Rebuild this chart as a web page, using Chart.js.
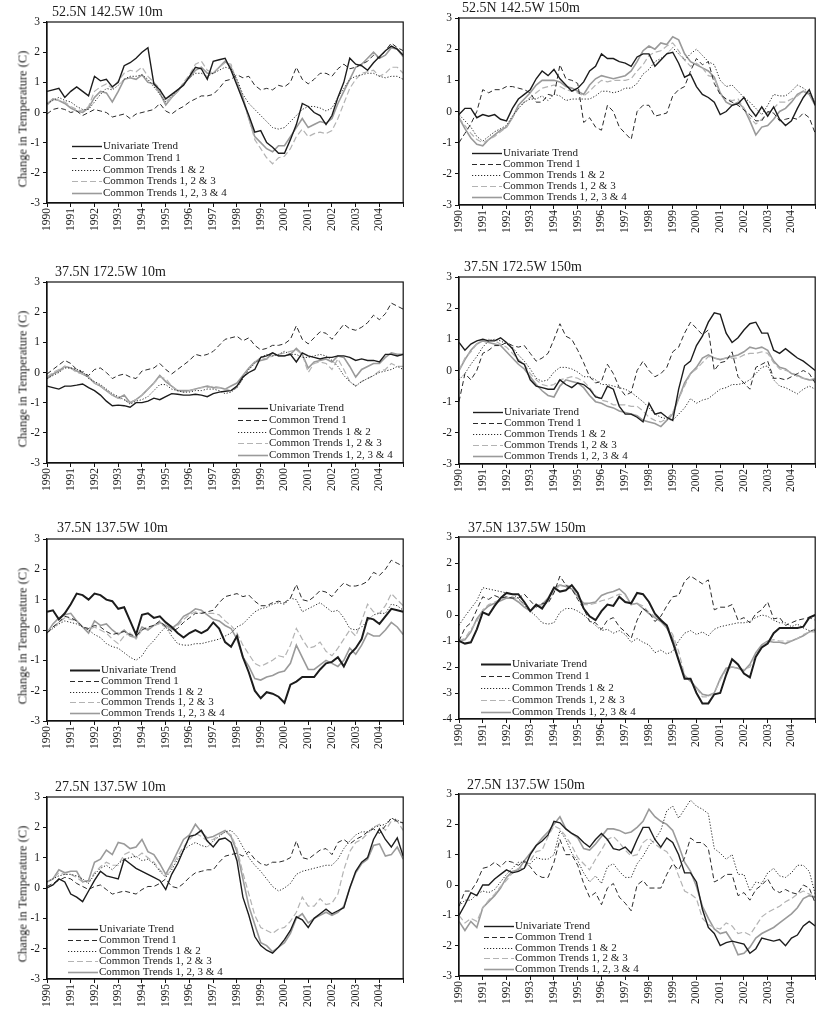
<!DOCTYPE html>
<html lang="en">
<head>
<meta charset="UTF-8">
<title>Common trends in temperature</title>
<script src="https://cdn.jsdelivr.net/npm/chart.js"></script>
<style>
    body {
        margin: 0;
        background: #fff;
        font-family: "Liberation Serif", "Times New Roman", serif;
        color: #1a1a1a;
    }
    #page {
        position: relative;
        width: 830px;
        height: 1010px;
        overflow: hidden;
    }
    .panel { position: absolute; }
    .title {
        position: absolute;
        font-size: 14px;
        line-height: 16px;
        white-space: nowrap;
    }
    .ylab {
        position: absolute;
        font-size: 12.5px;
        font-weight: normal;
        white-space: nowrap;
        transform: translate(-50%, -50%) rotate(-90deg);
    }
</style>
</head>
<body>
<div id="page"></div>

<script>
// tick labels on the time axis (quarterly samples from 1990 to 2005)
const yearLabels = ['1990','1991','1992','1993','1994','1995','1996','1997','1998','1999','2000','2001','2002','2003','2004'];
const seriesNames = ['Univariate Trend', 'Common Trend 1', 'Common Trends 1 & 2', 'Common Trends 1, 2 & 3', 'Common Trends 1, 2, 3 & 4'];

// ---- 52.5N 142.5W 10m ----
const l1Uni = [0.70,0.75,0.80,0.50,0.70,0.85,0.70,0.55,1.20,1.05, 1.10,0.85,1.00,1.55,1.65,1.80,2.00,2.15,0.95,0.75, 0.45,0.60,0.75,0.90,1.20,1.50,1.45,1.10,1.70,1.75, 1.80,1.40,0.90,0.40,-0.10,-0.65,-0.60,-1.00,-1.15,-1.35, -1.35,-0.90,-0.40,0.30,0.20,0.00,-0.10,-0.40,-0.10,0.50, 1.00,1.80,1.60,1.55,1.40,1.65,1.85,2.05,2.20,2.10, 1.90];
const l1Ct1 = [-0.05,0.10,0.15,0.10,0.00,0.05,-0.10,0.00,0.10,0.05, 0.00,-0.15,-0.10,-0.05,-0.20,-0.05,0.00,0.05,0.10,0.30, 0.05,-0.05,0.10,0.20,0.35,0.45,0.55,0.55,0.60,0.80, 1.05,1.10,1.25,1.15,1.20,0.90,0.75,0.80,0.75,0.90, 0.85,1.00,1.50,1.10,0.95,1.10,1.30,1.30,1.20,1.45, 1.60,1.45,1.50,1.60,1.70,1.90,1.80,2.05,2.30,2.15, 2.05];
const l1Ct12 = [0.30,0.40,0.50,0.40,0.35,0.20,0.10,0.10,0.35,0.60, 0.80,0.75,0.90,1.10,1.20,1.20,1.25,1.10,0.85,0.60, 0.35,0.55,0.75,0.95,1.15,1.30,1.30,1.20,1.30,1.40, 1.50,1.45,1.10,0.60,0.30,0.10,-0.10,-0.30,-0.50,-0.55, -0.50,-0.30,-0.10,0.10,0.20,0.20,0.15,0.05,0.15,0.50, 0.80,1.10,1.20,1.25,1.30,1.30,1.20,1.15,1.20,1.20, 1.10];
const l1Ct123 = [0.30,0.45,0.40,0.35,0.20,0.10,0.05,0.20,0.70,0.85, 0.95,0.80,1.05,1.30,1.40,1.35,1.50,1.20,1.00,0.80, 0.30,0.50,0.70,1.00,1.25,1.60,1.70,1.40,1.30,1.50, 1.65,1.60,1.00,0.40,-0.20,-0.90,-1.20,-1.50,-1.70,-1.50, -1.45,-1.20,-0.80,-0.55,-0.80,-0.70,-0.65,-0.70,-0.60,-0.20, 0.30,0.80,1.10,1.30,1.35,1.40,1.20,1.30,1.50,1.50, 1.30];
const l1Ct1234 = [0.25,0.45,0.40,0.30,0.15,0.05,0.00,0.15,0.50,0.70, 0.65,0.35,0.70,1.10,1.15,1.10,1.25,1.00,0.95,0.65, 0.25,0.50,0.70,0.95,1.15,1.40,1.50,1.30,1.30,1.50, 1.70,1.50,1.00,0.50,-0.20,-0.80,-1.00,-1.20,-1.30,-1.10, -1.10,-0.80,-0.50,-0.20,-0.50,-0.40,-0.30,-0.35,-0.20,0.30, 0.70,1.10,1.50,1.60,1.80,2.00,1.80,1.90,2.15,2.10, 1.85];

// ---- 37.5N 172.5W 10m ----
const l2Uni = [-0.45,-0.50,-0.55,-0.45,-0.45,-0.42,-0.38,-0.50,-0.60,-0.75, -0.95,-1.10,-1.08,-1.10,-1.15,-1.00,-1.00,-0.95,-0.85,-0.90, -0.80,-0.70,-0.72,-0.75,-0.75,-0.72,-0.75,-0.80,-0.70,-0.65, -0.62,-0.60,-0.45,-0.15,0.00,0.10,0.50,0.55,0.65,0.55, 0.55,0.60,0.35,0.65,0.55,0.50,0.45,0.50,0.50,0.55, 0.55,0.50,0.40,0.45,0.40,0.40,0.35,0.60,0.60,0.55, 0.60];
const l2Ct1 = [-0.05,0.10,0.25,0.40,0.30,0.10,0.00,-0.10,0.10,0.15, 0.00,-0.20,-0.10,-0.05,-0.15,-0.20,0.05,0.10,0.15,0.30, 0.10,-0.05,0.10,0.25,0.40,0.60,0.55,0.60,0.70,0.90, 1.10,1.15,1.20,1.05,1.15,0.90,0.75,0.80,0.90,0.90, 0.95,1.10,1.55,1.10,0.95,1.15,1.35,1.30,1.10,1.35, 1.60,1.45,1.40,1.50,1.65,1.90,1.75,1.95,2.30,2.20, 2.10];
const l2Ct12 = [-0.20,-0.10,0.00,0.15,0.15,0.10,0.05,-0.20,-0.30,-0.40, -0.55,-0.70,-0.80,-0.90,-1.05,-0.95,-0.90,-0.80,-0.60,-0.40, -0.40,-0.55,-0.60,-0.65,-0.65,-0.60,-0.60,-0.55,-0.55,-0.60, -0.70,-0.65,-0.50,-0.20,0.10,0.30,0.50,0.60,0.55,0.60, 0.70,0.60,0.60,0.50,0.50,0.55,0.60,0.55,0.40,0.20, -0.10,-0.30,-0.45,-0.30,-0.20,-0.10,0.00,0.05,0.10,0.20, 0.10];
const l2Ct123 = [-0.15,0.00,0.10,0.20,0.15,0.00,-0.05,-0.15,-0.35,-0.45, -0.60,-0.75,-0.85,-0.90,-1.00,-0.90,-0.75,-0.55,-0.35,-0.15, -0.20,-0.45,-0.60,-0.65,-0.60,-0.55,-0.50,-0.50,-0.45,-0.50, -0.55,-0.60,-0.50,-0.20,0.10,0.35,0.50,0.45,0.55,0.60, 0.65,0.70,0.75,0.60,0.00,0.30,0.35,0.30,0.10,0.45, 0.10,-0.30,-0.45,-0.30,-0.20,-0.10,0.05,0.10,0.30,0.20, 0.20];
const l2Ct1234 = [-0.20,-0.05,0.05,0.20,0.15,0.05,-0.05,-0.15,-0.35,-0.45, -0.60,-0.75,-0.85,-0.75,-1.00,-0.90,-0.75,-0.55,-0.35,-0.10, -0.30,-0.45,-0.60,-0.60,-0.60,-0.55,-0.50,-0.45,-0.50,-0.50, -0.55,-0.45,-0.35,-0.10,0.15,0.35,0.40,0.45,0.65,0.55, 0.55,0.60,0.80,0.60,0.15,0.35,0.40,0.45,0.35,0.55, 0.50,0.20,-0.15,0.10,0.20,0.30,0.30,0.50,0.65,0.60, 0.60];

// ---- 37.5N 137.5W 10m ----
const l3Uni = [0.60,0.65,0.35,0.55,0.85,1.20,1.15,1.00,1.20,1.15, 1.00,0.95,0.70,0.75,0.30,-0.15,0.50,0.55,0.40,0.45, 0.25,0.10,-0.10,-0.25,-0.10,0.00,-0.10,0.00,0.25,0.05, -0.40,-0.55,-0.20,-0.90,-1.40,-2.00,-2.25,-2.05,-2.10,-2.20, -2.40,-1.80,-1.70,-1.55,-1.55,-1.55,-1.30,-1.10,-1.05,-0.90, -1.20,-0.80,-0.60,-0.30,0.40,0.35,0.20,0.45,0.70,0.65, 0.60];
const l3Ct1 = [-0.10,0.10,0.25,0.45,0.40,0.30,0.10,0.05,0.15,0.10, -0.05,-0.15,-0.10,-0.05,-0.15,-0.20,0.00,0.10,0.15,0.30, 0.10,-0.05,0.05,0.25,0.40,0.55,0.55,0.60,0.65,0.90, 1.10,1.15,1.20,1.10,1.15,0.95,0.80,0.80,0.90,0.95, 0.90,1.05,1.50,1.00,0.95,1.10,1.30,1.25,1.10,1.35, 1.55,1.45,1.45,1.50,1.60,1.90,1.80,2.00,2.30,2.20, 2.10];
const l3Ct12 = [-0.10,0.05,0.20,0.30,0.25,0.20,0.10,0.00,-0.15,-0.25, -0.45,-0.55,-0.60,-0.75,-0.90,-1.00,-0.85,-0.55,-0.35,-0.10, 0.10,-0.20,-0.45,-0.50,-0.50,-0.45,-0.45,-0.40,-0.35,-0.30, -0.20,-0.10,0.10,0.20,0.40,0.60,0.70,0.75,0.85,0.90, 0.85,1.05,1.00,0.60,0.70,0.80,0.90,0.75,0.60,0.65, 0.40,0.05,0.00,0.10,0.30,0.50,0.55,0.55,0.85,0.80, 0.65];
const l3Ct123 = [-0.10,0.10,0.25,0.40,0.35,0.30,0.10,0.00,0.10,0.00, -0.10,-0.30,-0.45,-0.20,-0.10,-0.30,0.00,0.05,0.15,0.20, 0.10,0.00,0.15,0.35,0.50,0.60,0.55,0.55,0.55,0.50, 0.30,0.15,-0.10,-0.50,-0.80,-1.10,-1.20,-1.10,-1.00,-0.85, -0.90,-0.50,0.05,-0.30,-0.60,-0.55,-0.40,-0.70,-0.85,-0.60, -0.30,0.00,-0.20,0.30,0.85,0.60,0.55,0.80,1.20,1.00, 0.80];
const l3Ct1234 = [-0.10,0.20,0.40,0.50,0.55,0.30,0.10,-0.10,0.30,0.15, 0.20,0.00,-0.15,0.00,-0.20,-0.25,0.10,0.00,0.15,0.25, 0.15,0.05,0.20,0.45,0.55,0.70,0.65,0.50,0.35,0.30, 0.15,0.05,-0.30,-0.90,-1.20,-1.60,-1.65,-1.55,-1.50,-1.40, -1.35,-1.10,-0.50,-0.90,-1.30,-1.30,-1.15,-1.00,-1.10,-1.20, -1.00,-0.60,-0.80,-0.50,-0.10,-0.20,-0.20,0.00,0.25,0.10, -0.15];

// ---- 27.5N 137.5W 10m ----
const l4Uni = [0.00,0.10,0.30,0.20,-0.20,-0.30,-0.45,-0.10,0.25,0.55, 0.40,0.35,0.30,0.95,0.80,0.65,0.55,0.45,0.35,0.25, -0.05,0.45,0.80,1.25,1.70,1.75,1.90,1.55,1.35,1.60, 1.65,1.50,0.90,-0.30,-0.90,-1.60,-1.90,-2.05,-2.15,-1.95, -1.70,-1.40,-0.95,-1.05,-1.30,-1.00,-0.85,-0.70,-0.85,-0.75, -0.65,0.00,0.55,0.85,1.00,1.60,1.95,1.60,1.35,1.65, 1.05];
const l4Ct1 = [0.05,0.15,0.25,0.35,0.30,0.15,0.05,-0.05,0.05,0.10, -0.05,-0.20,-0.15,-0.10,-0.15,-0.20,-0.05,0.05,0.05,0.15, 0.30,0.05,0.00,0.15,0.35,0.50,0.55,0.60,0.60,0.85, 1.05,1.10,1.15,1.05,1.20,0.95,0.80,0.75,0.85,0.85, 0.90,1.00,1.55,1.00,0.95,1.10,1.25,1.30,1.10,1.50, 1.60,1.45,1.60,1.70,1.85,1.95,1.80,2.05,2.30,2.20, 2.15];
const l4Ct12 = [0.20,0.30,0.40,0.45,0.45,0.40,0.30,0.15,0.45,0.65, 0.75,0.60,0.80,0.95,1.00,1.05,0.90,0.95,0.80,0.55, 0.35,0.60,0.95,1.25,1.40,1.50,1.40,1.35,1.55,1.70, 1.85,1.90,1.70,1.35,1.00,0.75,0.55,0.30,0.05,-0.10, 0.00,0.15,0.45,0.55,0.60,0.65,0.70,0.75,0.75,0.95, 1.30,1.55,1.75,1.85,1.85,2.00,2.05,2.10,2.30,2.25, 2.10];
const l4Ct123 = [0.20,0.30,0.50,0.45,0.45,0.35,0.20,0.20,0.50,0.70, 0.85,0.75,0.75,1.10,1.20,1.00,1.15,1.00,0.85,0.60, 0.40,0.70,1.05,1.35,1.60,1.80,1.70,1.55,1.60,1.75, 1.85,1.75,1.30,0.50,-0.20,-0.90,-1.30,-1.40,-1.50,-1.35, -1.30,-1.10,-0.80,-0.30,-0.60,-0.60,-0.35,-0.55,-0.50,-0.20, 0.60,1.20,1.50,1.60,1.80,2.00,2.10,1.90,2.20,2.20, 1.90];
const l4Ct1234 = [0.20,0.30,0.60,0.50,0.55,0.55,0.20,0.25,0.85,0.95, 1.25,1.10,1.50,1.45,1.30,1.35,1.60,1.20,1.10,0.80, 0.45,0.80,1.20,1.60,1.75,2.10,1.85,1.65,1.70,1.80, 1.90,1.70,1.20,0.30,-0.60,-1.20,-1.80,-1.90,-2.10,-1.95, -1.80,-1.50,-1.00,-0.85,-1.15,-1.00,-0.90,-0.80,-0.90,-0.80, -0.60,0.00,0.50,0.80,0.95,1.40,1.45,1.05,1.10,1.35, 0.95];

// ---- 52.5N 142.5W 150m ----
const r1Uni = [-0.10,0.10,0.10,-0.20,-0.10,-0.15,-0.10,-0.25,-0.30,0.10, 0.40,0.55,0.70,1.05,1.30,1.15,1.35,1.05,0.85,0.65, 0.75,0.95,1.30,1.45,1.85,1.70,1.70,1.60,1.55,1.45, 1.75,1.85,1.85,1.45,1.65,1.85,1.90,1.55,1.10,1.20, 0.80,0.55,0.45,0.30,-0.10,0.00,0.20,0.25,0.45,0.10, -0.15,0.15,-0.15,0.15,-0.25,-0.45,-0.30,0.10,0.45,0.70, 0.20];
const r1Ct1 = [-1.00,-0.70,-0.40,0.00,0.70,0.60,0.70,0.70,0.80,0.80, 0.75,0.70,0.60,0.30,0.30,0.55,0.50,1.50,1.05,1.00, 0.90,-0.35,-0.20,-0.50,-0.60,0.20,0.00,-0.50,-0.70,-0.90, 0.00,0.20,0.20,-0.15,-0.10,-0.05,0.50,0.70,0.80,1.30, 1.70,1.50,1.60,0.90,0.55,0.40,0.30,0.20,0.05,-0.10, -0.30,-0.30,0.00,-0.05,-0.30,-0.25,-0.20,-0.25,-0.05,-0.20, -0.70];
const r1Ct12 = [-0.10,-0.30,-0.50,-0.80,-0.95,-0.80,-0.65,-0.55,-0.45,-0.15, 0.10,0.30,0.40,0.40,0.50,0.35,0.55,0.50,0.35,0.40, 0.40,0.40,0.40,0.50,0.65,0.65,0.60,0.65,0.75,0.75, 0.90,1.20,1.35,1.60,1.70,1.85,2.05,1.85,1.65,1.85, 2.00,1.80,1.60,1.50,1.00,0.80,0.85,0.65,0.45,0.30, 0.10,-0.10,0.20,0.55,0.50,0.50,0.65,0.85,0.75,0.60, 0.30];
const r1Ct123 = [-0.20,-0.45,-0.70,-0.90,-1.00,-0.90,-0.80,-0.65,-0.50,-0.20, 0.10,0.30,0.45,0.60,0.75,0.80,0.85,0.80,0.70,0.65, 0.60,0.50,0.65,0.85,1.00,0.95,1.00,1.00,1.00,1.05, 1.30,1.50,1.80,1.90,1.95,2.10,2.20,1.95,1.65,1.45, 1.55,1.40,1.15,1.10,0.55,0.40,0.35,0.40,0.10,-0.20, -0.40,-0.25,-0.05,0.10,0.30,0.30,0.40,0.50,0.65,0.60, 0.25];
const r1Ct1234 = [-0.20,-0.55,-0.85,-1.05,-1.10,-0.90,-0.75,-0.60,-0.50,-0.20, 0.20,0.40,0.60,0.85,1.00,1.00,1.00,0.95,0.80,0.75, 0.65,0.55,0.85,1.05,1.15,1.10,1.05,1.10,1.15,1.30, 1.60,1.95,2.10,2.00,2.20,2.15,2.40,2.30,1.85,1.60, 1.50,1.40,1.30,1.10,0.60,0.30,0.20,0.30,0.10,-0.30, -0.75,-0.50,-0.45,-0.25,0.00,0.10,0.30,0.55,0.65,0.55, 0.20];

// ---- 37.5N 172.5W 150m ----
const r2Uni = [0.90,0.65,0.85,0.95,1.00,0.95,0.95,1.05,0.90,0.70, 0.30,0.20,-0.30,-0.50,-0.55,-0.60,-0.60,-0.30,-0.45,-0.55, -0.40,-0.45,-0.60,-0.85,-0.90,-0.50,-0.60,-1.15,-1.40,-1.40, -1.50,-1.65,-1.05,-1.40,-1.35,-1.50,-1.60,-0.60,0.15,0.30, 0.80,1.10,1.55,1.85,1.80,1.20,0.90,1.05,1.30,1.50, 1.55,1.20,1.20,0.65,0.55,0.70,0.55,0.40,0.30,0.15, 0.00];
const r2Ct1 = [-1.00,-0.10,-0.30,0.00,0.55,0.65,0.80,0.80,0.90,0.80, 0.75,0.80,0.55,0.30,0.40,0.55,1.00,1.50,1.10,1.00, 0.65,0.25,-0.20,-0.40,-0.35,0.20,-0.10,-0.55,-0.80,-0.70, 0.00,0.30,0.00,-0.20,-0.10,0.10,0.60,0.75,1.20,1.55, 1.35,1.15,1.30,0.00,0.25,0.30,0.60,-0.20,-0.40,-0.60, 0.10,0.20,0.30,-0.25,-0.25,-0.30,-0.20,-0.10,0.00,-0.10, -0.40];
const r2Ct12 = [-0.30,-0.10,0.20,0.45,0.75,0.95,1.00,0.95,0.85,0.75, 0.50,0.30,0.05,-0.25,-0.35,-0.30,-0.05,0.10,0.10,0.05, -0.05,-0.20,-0.20,-0.30,-0.45,-0.45,-0.50,-0.55,-0.60,-0.70, -0.85,-1.00,-1.20,-1.40,-1.50,-1.55,-1.60,-1.40,-1.20,-0.90, -1.05,-0.95,-0.90,-0.75,-0.60,-0.55,-0.45,-0.45,-0.40,-0.30, -0.10,0.10,0.15,-0.30,-0.50,-0.55,-0.65,-0.75,-0.60,-0.50, -0.60];
const r2Ct123 = [0.00,0.40,0.60,0.85,1.00,1.00,0.95,0.85,0.75,0.55, 0.35,0.20,-0.10,-0.30,-0.45,-0.50,-0.45,-0.30,-0.25,-0.20, -0.25,-0.35,-0.55,-0.80,-0.95,-1.00,-1.10,-1.10,-1.10,-1.15, -1.15,-1.30,-1.50,-1.60,-1.65,-1.55,-1.35,-0.90,-0.50,-0.10, 0.05,0.25,0.45,0.40,0.35,0.40,0.40,0.40,0.50,0.55, 0.55,0.60,0.55,0.25,0.05,0.00,-0.05,-0.20,-0.25,-0.30, -0.25];
const r2Ct1234 = [0.00,0.35,0.65,0.85,0.95,0.90,0.85,0.80,0.60,0.40, 0.20,0.05,-0.20,-0.45,-0.65,-0.80,-0.85,-0.50,-0.30,-0.35, -0.40,-0.55,-0.80,-1.00,-1.05,-1.15,-1.20,-1.30,-1.35,-1.40, -1.45,-1.60,-1.65,-1.70,-1.80,-1.60,-1.40,-0.90,-0.40,-0.10, 0.10,0.40,0.50,0.40,0.35,0.40,0.45,0.50,0.60,0.75, 0.70,0.75,0.65,0.30,0.10,0.05,-0.10,-0.15,-0.25,-0.30, -0.30];

// ---- 37.5N 137.5W 150m ----
const r3Uni = [-1.00,-1.10,-1.05,-0.55,0.10,0.00,0.35,0.65,0.85,0.80, 0.80,0.50,0.15,0.40,0.25,0.60,1.05,0.90,0.95,1.15, 0.85,0.25,-0.05,-0.20,0.15,0.40,0.35,0.70,0.50,0.45, 0.85,0.80,0.50,0.05,-0.20,-0.40,-1.05,-1.75,-2.45,-2.45, -3.00,-3.40,-3.40,-3.05,-3.00,-2.30,-1.70,-1.90,-2.25,-2.40, -1.60,-1.25,-1.10,-0.70,-0.50,-0.50,-0.50,-0.50,-0.45,-0.10, 0.00];
const r3Ct1 = [-1.00,-0.50,-0.30,0.20,0.70,0.60,0.75,0.65,0.70,0.65, 0.65,0.80,0.55,0.30,0.45,0.45,0.85,1.50,1.15,1.00, 0.60,0.25,-0.25,-0.30,-0.55,-0.20,-0.10,-0.45,-0.65,-0.90, -0.20,0.25,0.10,-0.25,-0.05,0.35,0.70,0.75,1.30,1.50, 1.35,1.20,1.35,0.20,0.30,0.30,0.40,-0.20,-0.10,-0.30, 0.05,0.20,0.50,-0.15,-0.10,-0.40,-0.30,-0.20,-0.15,-0.10, -0.20];
const r3Ct12 = [-0.40,-0.05,0.25,0.55,1.05,1.00,0.95,0.90,0.85,0.80, 0.65,0.40,0.15,-0.05,-0.30,-0.35,-0.30,0.10,0.25,0.25, 0.15,0.00,-0.20,-0.40,-0.60,-0.55,-0.70,-0.60,-0.75,-1.05, -0.90,-1.05,-1.15,-1.45,-1.35,-1.50,-1.40,-1.00,-0.70,-0.60, -0.75,-0.65,-0.80,-0.55,-0.45,-0.40,-0.35,-0.30,-0.30,-0.25, -0.10,0.00,-0.05,-0.20,-0.30,-0.30,-0.45,-0.35,-0.50,-0.60, -0.60];
const r3Ct123 = [-1.00,-0.90,-0.55,-0.25,0.20,0.40,0.50,0.60,0.70,0.70, 0.60,0.40,0.15,0.35,0.30,0.55,0.90,1.15,1.15,1.10, 0.75,0.40,0.40,0.45,0.55,0.60,0.70,0.80,0.75,0.40, 0.45,0.35,0.10,-0.05,-0.15,-0.40,-0.75,-1.40,-2.30,-2.55, -2.80,-3.15,-3.15,-3.00,-2.50,-2.10,-2.00,-2.05,-2.10,-2.00, -1.55,-1.20,-1.00,-0.95,-1.00,-1.00,-1.00,-0.90,-0.75,-0.65, -0.65];
const r3Ct1234 = [-1.00,-0.95,-0.65,-0.15,0.15,0.35,0.45,0.55,0.65,0.65, 0.50,0.30,0.15,0.35,0.40,0.65,1.05,1.15,1.10,1.00, 0.70,0.45,0.45,0.50,0.75,0.85,0.90,1.00,0.80,0.40, 0.45,0.25,0.05,-0.10,-0.25,-0.50,-0.90,-1.70,-2.35,-2.55, -2.80,-3.05,-3.10,-3.00,-2.45,-2.05,-2.00,-2.05,-2.15,-1.90, -1.45,-1.15,-1.00,-1.05,-1.05,-1.10,-1.00,-0.90,-0.80,-0.65, -0.55];

// ---- 27.5N 137.5W 150m ----
const r4Uni = [-1.00,-0.65,-0.25,-0.35,0.00,0.00,0.20,0.35,0.50,0.40, 0.45,0.55,1.00,1.30,1.45,1.65,2.10,2.05,1.85,1.70, 1.60,1.40,1.25,1.50,1.70,1.50,1.20,1.15,1.25,1.05, 1.50,1.90,1.90,1.50,1.25,1.55,1.40,1.00,0.40,0.40, 0.10,-0.80,-1.40,-1.60,-2.00,-1.90,-1.85,-1.90,-1.95,-2.25, -2.10,-1.75,-1.80,-1.85,-1.80,-2.00,-1.75,-1.65,-1.35,-1.20, -1.35];
const r4Ct1 = [-0.70,-0.20,-0.20,0.10,0.55,0.60,0.75,0.60,0.80,0.75, 0.65,0.80,0.60,0.35,0.25,0.25,0.75,1.50,1.00,1.00, 0.65,0.05,-0.40,-0.25,-0.65,-0.10,0.05,-0.40,-0.60,-0.85, 0.00,0.15,-0.10,-0.10,-0.10,0.35,0.70,0.50,0.90,1.55, 1.40,1.40,1.20,0.10,0.20,0.35,0.35,-0.35,-0.25,-0.50, -0.15,0.00,0.20,-0.15,-0.25,-0.15,-0.25,-0.30,0.00,-0.10, -0.60];
const r4Ct12 = [-0.70,-0.50,-0.50,-0.30,-0.20,-0.25,-0.15,0.10,0.35,0.55, 0.75,0.75,0.70,0.90,0.85,0.85,1.00,1.80,1.50,1.05, 0.80,0.40,0.10,0.30,0.05,0.60,0.70,0.45,0.25,0.25, 0.70,0.95,1.30,1.50,1.80,2.45,2.60,2.20,2.50,2.80, 2.60,2.50,2.35,1.20,1.05,0.85,1.00,0.35,0.35,-0.20, 0.10,0.05,0.40,0.55,0.30,0.25,0.40,0.65,0.65,0.45, -0.30];
const r4Ct123 = [-1.00,-1.25,-1.10,-1.20,-0.75,-0.50,-0.30,-0.05,0.15,0.40, 0.55,0.55,0.80,1.10,1.15,1.60,1.95,1.85,1.60,1.30, 0.90,0.70,0.50,0.85,1.15,1.50,1.60,1.40,1.15,0.95, 1.00,1.40,1.55,1.35,1.20,1.10,0.80,0.30,-0.20,-0.30, -0.45,-1.10,-1.30,-1.40,-1.45,-1.25,-1.35,-1.60,-1.55,-1.65, -1.35,-1.05,-0.90,-0.80,-0.70,-0.55,-0.45,-0.30,-0.20,-0.30, -0.40];
const r4Ct1234 = [-1.20,-1.50,-1.20,-1.40,-0.75,-0.55,-0.35,-0.10,0.25,0.45, 0.50,0.80,1.05,1.30,1.55,1.75,2.00,2.25,1.85,1.70, 1.55,1.20,1.15,1.35,1.60,1.85,1.85,1.80,1.70,1.75, 1.90,2.10,2.50,2.25,2.10,2.00,1.80,1.30,0.75,0.45, -0.05,-0.70,-1.10,-1.45,-1.60,-1.55,-1.85,-2.30,-2.25,-2.05, -1.75,-1.60,-1.50,-1.40,-1.25,-1.10,-0.95,-0.75,-0.45,-0.35, -0.40];

// time of each sample (quarter steps)
const quarters = l1Uni.map((_, i) => 1990 + i / 4);

// line looks, same order as seriesNames
const lineStyles = [
    { color: '#1c1c1c', width: 1.4, dash: [] },
    { color: '#2a2a2a', width: 1, dash: [5, 3] },
    { color: '#2a2a2a', width: 1, dash: [1.2, 1.8] },
    { color: '#b3b3b3', width: 1.2, dash: [6, 3] },
    { color: '#9a9a9a', width: 1.6, dash: [] }
];

// the two columns: canvas left/width and the plot's left/right edge on the page
const columns = [
    { canvasLeft: 0,   canvasW: 418, plotLeft: 47,  plotRight: 414 },
    { canvasLeft: 415, canvasW: 415, plotLeft: 459, plotRight: 825 }
];

// panel placement; legend = [dx, dy, row gap] from the plot's top-left corner
const panels = [
    { title: '52.5N 142.5W 10m',  col: 0, top: 22,  bottom: 203, yMin: -3, tx: 52,  ty: 12,  legend: [25, 124, 11.8], series: [l1Uni, l1Ct1, l1Ct12, l1Ct123, l1Ct1234] },
    { title: '37.5N 172.5W 10m',  col: 0, top: 282, bottom: 463, yMin: -3, tx: 55,  ty: 272, legend: [191, 126, 11.8], series: [l2Uni, l2Ct1, l2Ct12, l2Ct123, l2Ct1234] },
    { title: '37.5N 137.5W 10m',  col: 0, top: 539, bottom: 721, yMin: -3, tx: 57,  ty: 528, legend: [23, 131, 10.8], uniWidth: 2, series: [l3Uni, l3Ct1, l3Ct12, l3Ct123, l3Ct1234] },
    { title: '27.5N 137.5W 10m',  col: 0, top: 797, bottom: 979, yMin: -3, tx: 55,  ty: 787, legend: [21, 132, 10.8], series: [l4Uni, l4Ct1, l4Ct12, l4Ct123, l4Ct1234] },
    { title: '52.5N 142.5W 150m', col: 1, top: 18,  bottom: 205, yMin: -3, tx: 462, ty: 8,   legend: [13, 135, 11], series: [r1Uni, r1Ct1, r1Ct12, r1Ct123, r1Ct1234] },
    { title: '37.5N 172.5W 150m', col: 1, top: 277, bottom: 464, yMin: -3, tx: 464, ty: 267, legend: [14, 135, 11], series: [r2Uni, r2Ct1, r2Ct12, r2Ct123, r2Ct1234] },
    { title: '37.5N 137.5W 150m', col: 1, top: 537, bottom: 719, yMin: -4, tx: 468, ty: 528, legend: [22, 127, 12], uniWidth: 2, series: [r3Uni, r3Ct1, r3Ct12, r3Ct123, r3Ct1234] },
    { title: '27.5N 137.5W 150m', col: 1, top: 794, bottom: 976, yMin: -3, tx: 467, ty: 785, legend: [25, 132, 10.8], series: [r4Uni, r4Ct1, r4Ct12, r4Ct123, r4Ct1234] }
];

const serif = '"Liberation Serif", "Times New Roman", serif';

// full frame round the plot area
const frameBox = {
    id: 'frameBox',
    afterDatasetsDraw(chart) {
        const a = chart.chartArea, ctx = chart.ctx;
        ctx.save();
        ctx.strokeStyle = '#111';
        ctx.lineWidth = 1.2;
        ctx.strokeRect(a.left, a.top, a.right - a.left, a.bottom - a.top);
        ctx.restore();
    }
};

// legend inside the plot, drawn from the datasets' own styles
const trendLegend = {
    id: 'trendLegend',
    afterDraw(chart, args, opts) {
        const a = chart.chartArea, ctx = chart.ctx;
        ctx.save();
        ctx.font = '11px ' + serif;
        ctx.textBaseline = 'middle';
        chart.data.datasets.forEach((ds, k) => {
            const x = a.left + opts.x;
            const y = Math.round(a.top + opts.y + k * opts.gap) + 0.5;
            ctx.strokeStyle = ds.borderColor;
            ctx.lineWidth = ds.borderWidth;
            ctx.setLineDash(ds.borderDash);
            ctx.beginPath();
            ctx.moveTo(x, y);
            ctx.lineTo(x + 30, y);
            ctx.stroke();
            ctx.setLineDash([]);
            ctx.fillStyle = '#1a1a1a';
            ctx.fillText(ds.label, x + 31, y);
        });
        ctx.restore();
    }
};

const page = document.getElementById('page');

panels.forEach(p => {
    const c = columns[p.col];
    const padTop = 10;
    const xAxisH = 34;
    const canvasH = (p.bottom - p.top) + padTop + xAxisH;

    const box = document.createElement('div');
    box.className = 'panel';
    box.style.left = c.canvasLeft + 'px';
    box.style.top = (p.top - padTop) + 'px';
    const cv = document.createElement('canvas');
    cv.width = c.canvasW;
    cv.height = canvasH;
    cv.style.width = c.canvasW + 'px';
    cv.style.height = canvasH + 'px';
    box.appendChild(cv);
    page.appendChild(box);

    const title = document.createElement('div');
    title.className = 'title';
    title.textContent = p.title;
    title.style.left = p.tx + 'px';
    title.style.top = (p.ty - 8) + 'px';
    page.appendChild(title);

    if (p.col === 0) {
        const yl = document.createElement('div');
        yl.className = 'ylab';
        yl.textContent = 'Change in Temperature  (C)';
        yl.style.left = '23px';
        yl.style.top = ((p.top + p.bottom) / 2 + 6) + 'px';
        page.appendChild(yl);
    }

    const datasets = p.series.map((vals, k) => ({
        label: seriesNames[k],
        data: vals.map((v, i) => ({ x: quarters[i], y: v })),
        borderColor: lineStyles[k].color,
        borderWidth: (k === 0 && p.uniWidth) ? p.uniWidth : lineStyles[k].width,
        borderDash: lineStyles[k].dash,
        pointRadius: 0,
        fill: false,
        tension: 0
    }));

    const tickFont = { family: serif, size: 11.5 };

    new Chart(cv, {
        type: 'line',
        data: { datasets: datasets },
        options: {
            responsive: false,
            maintainAspectRatio: false,
            animation: false,
            layout: { padding: { top: padTop, right: c.canvasLeft + c.canvasW - c.plotRight, left: 0, bottom: 0 } },
            plugins: {
                legend: { display: false },
                tooltip: { enabled: false },
                trendLegend: { x: p.legend[0], y: p.legend[1], gap: p.legend[2] }
            },
            scales: {
                x: {
                    type: 'linear',
                    min: 1990,
                    max: 2005,
                    afterFit: s => { s.height = xAxisH; },
                    ticks: {
                        stepSize: 1,
                        autoSkip: false,
                        minRotation: 90,
                        maxRotation: 90,
                        padding: 1,
                        color: '#1a1a1a',
                        font: tickFont,
                        callback: v => yearLabels[Math.round(v) - 1990] || ''
                    },
                    grid: { drawOnChartArea: false, drawTicks: true, tickLength: 4, color: '#111' },
                    border: { display: true, color: '#111', width: 1.2 }
                },
                y: {
                    min: p.yMin,
                    max: 3,
                    afterFit: s => { s.width = c.plotLeft - c.canvasLeft; },
                    ticks: {
                        stepSize: 1,
                        padding: 3,
                        color: '#1a1a1a',
                        font: tickFont,
                        callback: v => String(v)
                    },
                    grid: { drawOnChartArea: false, drawTicks: true, tickLength: 4, color: '#111' },
                    border: { display: true, color: '#111', width: 1.2 }
                }
            }
        },
        plugins: [frameBox, trendLegend]
    });
});
</script>
</body>
</html>
